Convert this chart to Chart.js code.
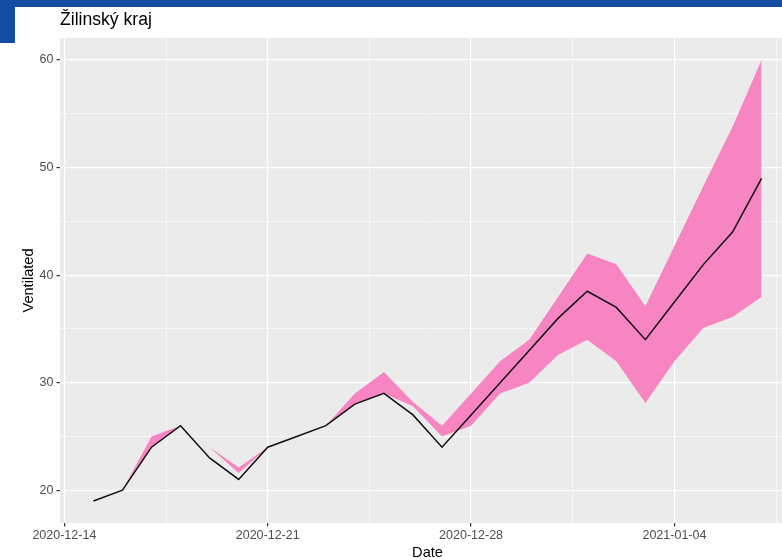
<!DOCTYPE html>
<html>
<head>
<meta charset="utf-8">
<script src="https://cdn.jsdelivr.net/npm/chart.js@4"></script>
<style>
  body { margin: 0; background: #fff; }
  #wrap { position: relative; width: 782px; height: 560px; overflow: hidden; }
  #topbar { position: absolute; left: 0; top: 0; width: 782px; height: 7px; background: #134ca0; }
  #sidebar { position: absolute; left: 0; top: 0; width: 15px; height: 43px; background: #134ca0; }
  #title { position: absolute; left: 60px; top: 9px; font: 17.6px "Liberation Sans", Arial, sans-serif; color: #000; }
</style>
</head>
<body>
<div id="wrap">
  <canvas id="chart" width="800" height="560"></canvas>
  <div id="topbar"></div>
  <div id="sidebar"></div>
  <div id="title">Žilinský kraj</div>
</div>
<script>
  // day index: 0 = 2020-12-14
  let days = [1, 2, 3, 4, 5, 6, 7, 8, 9, 10, 11, 12, 13, 14, 15, 16, 17, 18, 19, 20, 21, 22, 23, 24];
  let ventilated = [19, 20, 24, 26, 23, 21, 24, 25, 26, 28, 29, 27, 24, 27, 30, 33, 36, 38.5, 37, 34, 37.5, 41, 44, 49];
  let lower = [19, 20, 24, 26, 24, 21.6, 24, 25, 26, 28, 29, 27.8, 25, 26, 29, 30, 32.6, 34, 32, 28.1, 32, 35.1, 36.1, 38];
  let upper = [19, 20, 25, 26, 24, 22.1, 24, 25, 26, 29, 31, 28.2, 26, 29, 32, 34, 38, 42, 41, 37.1, 42.7, 48.3, 53.8, 60];
  let xTicks = [0, 3.5, 7, 10.5, 14, 17.5, 21, 24.5];
  let yTicks = [20, 25, 30, 35, 40, 45, 50, 55, 60];

  function points(values) {
    return days.map((d, i) => ({ x: d, y: values[i] }));
  }

  function dayLabel(v) {
    let d = new Date(2020, 11, 14 + v);
    return d.getFullYear() + '-' + String(d.getMonth() + 1).padStart(2, '0') + '-' + String(d.getDate()).padStart(2, '0');
  }

  let isMajorX = v => v % 7 === 0;
  let isMajorY = v => v % 10 === 0;

  let panelBg = {
    id: 'panelBg',
    beforeDraw(chart) {
      let { ctx, chartArea: a } = chart;
      ctx.save();
      ctx.fillStyle = '#ebebeb';
      ctx.fillRect(a.left, a.top, a.right - a.left, a.bottom - a.top);
      ctx.restore();
    }
  };

  Chart.defaults.font.family = '"Liberation Sans", Arial, sans-serif';

  new Chart(document.getElementById('chart'), {
    type: 'line',
    data: {
      datasets: [
        {
          label: 'Ventilated',
          data: points(ventilated),
          borderColor: '#111',
          borderWidth: 1.5,
          pointRadius: 0,
          fill: false
        },
        {
          label: 'lower',
          data: points(lower),
          borderWidth: 0,
          borderColor: 'transparent',
          pointRadius: 0,
          fill: false
        },
        {
          label: 'upper',
          data: points(upper),
          borderWidth: 0,
          borderColor: 'transparent',
          backgroundColor: 'rgba(247, 129, 191, 0.97)',
          pointRadius: 0,
          fill: 1
        }
      ]
    },
    options: {
      responsive: false,
      animation: false,
      layout: { padding: { top: 38, right: 5, left: 0, bottom: 0 } },
      plugins: {
        legend: { display: false },
        tooltip: { enabled: false }
      },
      scales: {
        x: {
          type: 'linear',
          min: -0.15,
          max: 25.15,
          afterBuildTicks(scale) {
            scale.ticks = xTicks.map(v => ({ value: v }));
          },
          afterFit(scale) {
            scale.height = 37;
          },
          border: { display: false },
          grid: {
            color: '#fff',
            lineWidth: c => isMajorX(c.tick.value) ? 1.2 : 0.6,
            tickColor: c => isMajorX(c.tick.value) ? '#333' : 'transparent',
            tickLength: 3.5
          },
          ticks: {
            autoSkip: false,
            maxRotation: 0,
            padding: 2,
            color: '#4d4d4d',
            font: { size: 12.5 },
            callback: v => isMajorX(v) ? dayLabel(v) : ''
          },
          title: {
            display: true,
            text: 'Date',
            color: '#000',
            font: { size: 14.6, lineHeight: 1 },
            padding: 0
          }
        },
        y: {
          min: 16.95,
          max: 62.05,
          afterBuildTicks(scale) {
            scale.ticks = yTicks.map(v => ({ value: v }));
          },
          afterFit(scale) {
            scale.width = 60;
          },
          border: { display: false },
          grid: {
            color: '#fff',
            lineWidth: c => isMajorY(c.tick.value) ? 1.2 : 0.6,
            tickColor: c => isMajorY(c.tick.value) ? '#333' : 'transparent',
            tickLength: 3.5
          },
          ticks: {
            autoSkip: false,
            padding: 3,
            color: '#4d4d4d',
            font: { size: 12.5 },
            callback: v => isMajorY(v) ? String(v) : ''
          },
          title: {
            display: true,
            text: 'Ventilated',
            color: '#000',
            font: { size: 14.6 },
            padding: { top: 20, bottom: 0 }
          }
        }
      }
    },
    plugins: [panelBg]
  });
</script>
</body>
</html>
